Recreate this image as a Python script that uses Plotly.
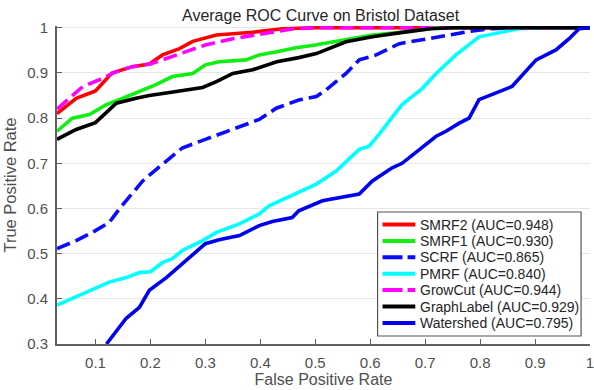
import plotly.graph_objects as go

# ROC curves (false positive rate, true positive rate) for each method
smrf2_fpr = [0.03, 0.05, 0.065, 0.10, 0.13, 0.167, 0.198, 0.222, 0.253, 0.277, 0.32, 0.386, 0.44, 0.50, 1.0]
smrf2_tpr = [0.81, 0.83, 0.844, 0.86, 0.90, 0.914, 0.92, 0.94, 0.954, 0.97, 0.984, 0.99, 0.998, 1.0, 1.0]

smrf1_fpr = [0.03, 0.058, 0.089, 0.12, 0.15, 0.18, 0.21, 0.24, 0.277, 0.30, 0.325, 0.374, 0.398, 0.43, 0.465, 0.50, 0.556, 0.604, 0.665, 0.72, 1.0]
smrf1_tpr = [0.771, 0.80, 0.808, 0.83, 0.844, 0.859, 0.874, 0.892, 0.899, 0.918, 0.925, 0.929, 0.94, 0.947, 0.956, 0.962, 0.973, 0.984, 0.991, 1.0, 1.0]

scrf_fpr = [0.03, 0.065, 0.10, 0.125, 0.144, 0.156, 0.186, 0.222, 0.258, 0.30, 0.35, 0.398, 0.429, 0.47, 0.502, 0.52, 0.556, 0.58, 0.611, 0.653, 0.707, 0.775, 0.82, 0.86, 1.0]
scrf_tpr = [0.511, 0.529, 0.551, 0.569, 0.60, 0.617, 0.661, 0.698, 0.734, 0.753, 0.775, 0.797, 0.822, 0.840, 0.848, 0.863, 0.899, 0.929, 0.94, 0.965, 0.976, 0.991, 0.998, 1.0, 1.0]

pmrf_fpr = [0.03, 0.077, 0.125, 0.156, 0.18, 0.20, 0.222, 0.24, 0.258, 0.295, 0.32, 0.362, 0.398, 0.416, 0.47, 0.502, 0.538, 0.58, 0.598, 0.616, 0.658, 0.695, 0.72, 0.756, 0.798, 0.84, 0.87, 0.90, 1.0]
pmrf_tpr = [0.386, 0.412, 0.437, 0.447, 0.458, 0.46, 0.48, 0.489, 0.507, 0.529, 0.547, 0.566, 0.588, 0.606, 0.635, 0.654, 0.683, 0.731, 0.738, 0.764, 0.83, 0.866, 0.899, 0.94, 0.98, 0.991, 0.998, 1.0, 1.0]

growcut_fpr = [0.03, 0.077, 0.107, 0.138, 0.167, 0.20, 0.229, 0.265, 0.30, 0.35, 0.41, 0.46, 0.50, 1.0]
growcut_tpr = [0.82, 0.87, 0.885, 0.903, 0.914, 0.92, 0.932, 0.947, 0.962, 0.976, 0.987, 0.998, 1.0, 1.0]

graphlabel_fpr = [0.03, 0.065, 0.10, 0.138, 0.174, 0.198, 0.247, 0.295, 0.32, 0.35, 0.386, 0.43, 0.47, 0.502, 0.556, 0.604, 0.665, 0.71, 0.75, 1.0]
graphlabel_tpr = [0.753, 0.775, 0.79, 0.833, 0.844, 0.85, 0.859, 0.868, 0.881, 0.899, 0.907, 0.925, 0.934, 0.943, 0.969, 0.98, 0.991, 0.998, 1.0, 1.0]

watershed_fpr = [0.12, 0.156, 0.18, 0.198, 0.229, 0.265, 0.30, 0.325, 0.362, 0.398, 0.422, 0.458, 0.47, 0.513, 0.58, 0.604, 0.64, 0.658, 0.72, 0.738, 0.762, 0.78, 0.798, 0.858, 0.902, 0.938, 0.962, 0.98, 0.99, 1.0]
watershed_tpr = [0.30, 0.357, 0.381, 0.419, 0.447, 0.485, 0.522, 0.531, 0.54, 0.562, 0.571, 0.58, 0.595, 0.617, 0.632, 0.661, 0.69, 0.70, 0.76, 0.771, 0.789, 0.80, 0.841, 0.87, 0.929, 0.951, 0.976, 0.998, 1.0, 1.0]

names = ["SMRF2 (AUC=0.948)", "SMRF1 (AUC=0.930)", "SCRF (AUC=0.865)", "PMRF (AUC=0.840)",
         "GrowCut (AUC=0.944)", "GraphLabel (AUC=0.929)", "Watershed (AUC=0.795)"]

x_ticks = [0.1, 0.2, 0.3, 0.4, 0.5, 0.6, 0.7, 0.8, 0.9, 1.0]
x_tick_text = ["0.1", "0.2", "0.3", "0.4", "0.5", "0.6", "0.7", "0.8", "0.9", "1"]
y_ticks = [0.3, 0.4, 0.5, 0.6, 0.7, 0.8, 0.9, 1.0]
y_tick_text = ["0.3", "0.4", "0.5", "0.6", "0.7", "0.8", "0.9", "1"]

series = [
    (smrf2_fpr, smrf2_tpr, "#ff0000", "solid"),
    (smrf1_fpr, smrf1_tpr, "#11ee11", "solid"),
    (scrf_fpr, scrf_tpr, "#0a0aff", "14px,6px"),
    (pmrf_fpr, pmrf_tpr, "#00ffff", "solid"),
    (growcut_fpr, growcut_tpr, "#ff00ff", "14px,6px"),
    (graphlabel_fpr, graphlabel_tpr, "#000000", "solid"),
    (watershed_fpr, watershed_tpr, "#0000ee", "solid"),
]
legend_dash = {"solid": "solid", "14px,6px": "20px,5px"}

font_family = "Liberation Sans, Arial, sans-serif"

# figure geometry (pixels)
W, H = 594, 390
ML, MR, MT, MB = 57, 0, 26, 46
PW, PH = W - ML - MR, H - MT - MB


def px_x(p):
    return (p - ML) / PW


def px_y(p):
    return (H - MB - p) / PH


fig = go.Figure()
for (xs, ys, color, dash), name in zip(series, names):
    fig.add_trace(go.Scatter(
        x=xs, y=ys, mode="lines", name=name, showlegend=False,
        line=dict(color=color, width=3.6, dash=dash),
    ))

# boxed legend in the lower-right corner of the axes
shapes = [dict(type="rect", xref="paper", yref="paper",
               x0=px_x(380), x1=px_x(585), y0=px_y(336), y1=px_y(212),
               line=dict(color="#555555", width=1.2), fillcolor="white", layer="above")]
annotations = []
row_top, row_step = 224.5, 16.4
for i, ((xs, ys, color, dash), name) in enumerate(zip(series, names)):
    yy = px_y(row_top + i * row_step)
    shapes.append(dict(type="line", xref="paper", yref="paper",
                       x0=px_x(385), x1=px_x(418), y0=yy, y1=yy, layer="above",
                       line=dict(color=color, width=4, dash=legend_dash[dash])))
    annotations.append(dict(text=name, xref="paper", yref="paper", x=px_x(421), y=yy,
                            xanchor="left", yanchor="middle", showarrow=False,
                            font=dict(size=14, color="#262626", family=font_family)))

# chart title
annotations.append(dict(text="Average ROC Curve on Bristol Dataset", xref="paper", yref="paper",
                        x=px_x(323), y=px_y(15.5), xanchor="center", yanchor="middle",
                        showarrow=False, font=dict(size=16, color="#262626", family=font_family)))

fig.update_layout(
    width=W, height=H,
    margin=dict(l=ML, r=MR, t=MT, b=MB),
    paper_bgcolor="white", plot_bgcolor="white",
    font=dict(family=font_family, size=15, color="#505050"),
    shapes=shapes,
    annotations=annotations,
    showlegend=False,
)

fig.update_xaxes(
    range=[0.03, 1.0], tickvals=x_ticks, ticktext=x_tick_text,
    ticks="inside", ticklen=5, tickcolor="#606060", tickwidth=1.2,
    showline=True, linecolor="#606060", linewidth=1.8,
    showgrid=False, zeroline=False, ticklabelstandoff=4, ticklabeloverflow="allow",
    title=dict(text="False Positive Rate", font=dict(size=16, color="#505050"), standoff=4),
)
fig.update_yaxes(
    range=[0.3, 1.004], tickvals=y_ticks, ticktext=y_tick_text,
    ticks="inside", ticklen=5, tickcolor="#606060", tickwidth=1.2,
    showline=True, linecolor="#606060", linewidth=1.8,
    showgrid=True, gridcolor="#e6e6e6", gridwidth=1.2, zeroline=False, ticklabelstandoff=4,
    title=dict(text="True Positive Rate", font=dict(size=16.5, color="#505050"), standoff=6),
)

fig.write_html("out.html")
